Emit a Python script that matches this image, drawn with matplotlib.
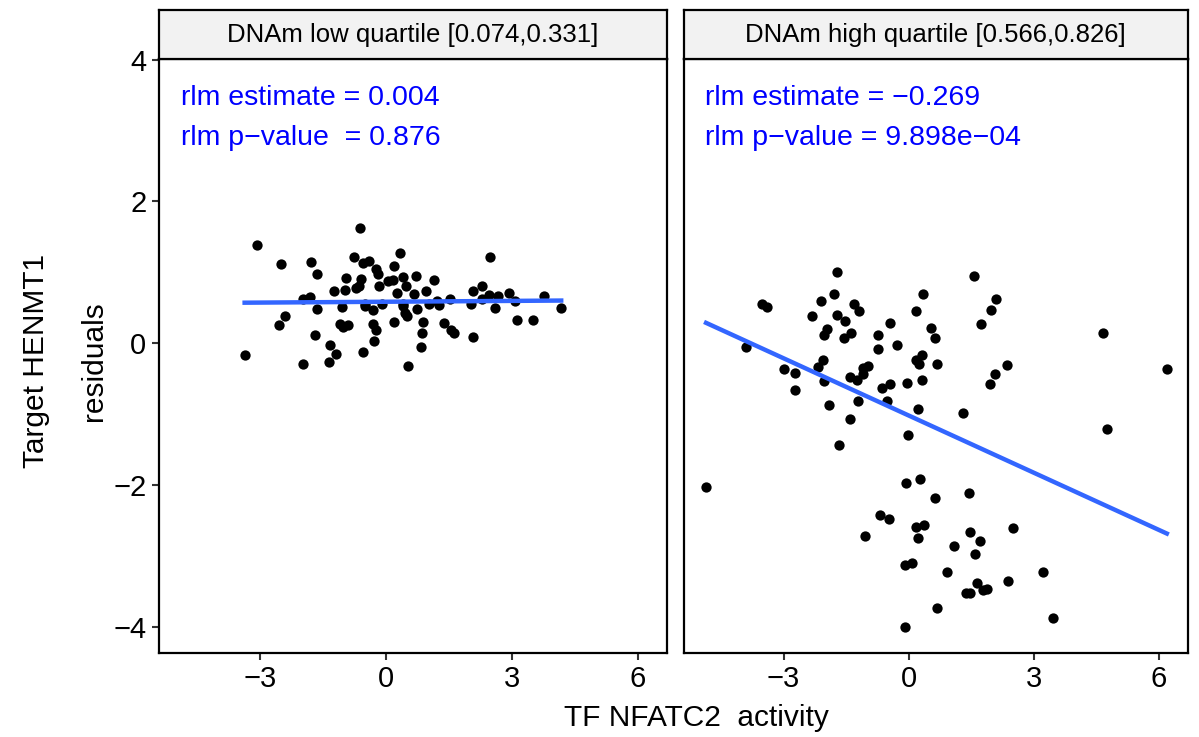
import matplotlib.pyplot as plt
import numpy as np

plt.rcParams['font.family'] = ['Liberation Sans', 'DejaVu Sans']

# facet labels and annotation text
strip_labels = ['DNAm low quartile [0.074,0.331]', 'DNAm high quartile [0.566,0.826]']
est_text = ['rlm estimate = 0.004', 'rlm estimate = \u22120.269']
pval_text = ['rlm p\u2212value  = 0.876', 'rlm p\u2212value = 9.898e\u221204']

# rlm fit (intercept, slope) per panel
fit_intercept = [0.585, -1.02]
fit_slope = [0.004, -0.269]

# low quartile panel
low_x = [-0.61, -3.07, -2.50, -1.79, -1.63, -0.75, -0.53, -0.40, 0.34, -0.24,
         -0.18, 0.19, -0.95, -0.58, -0.63, -0.70, -1.22, -0.96, -0.15, 0.06,
         0.17, 0.41, 0.49, 0.27, -1.98, -1.80, -1.63, -1.05, -0.49, -0.49,
         -0.31, -0.09, 0.42, 0.47, 0.51, -2.40, -2.53, -1.69, -1.09, -1.01,
         -0.89, -0.31, -0.24, -0.27, 0.20, -1.33, -1.18, -0.54, -3.36, -1.98,
         -1.35, 0.52, 0.73, 1.15, 0.67, 0.95, 0.41, 0.75, 1.02, 1.21,
         1.27, 1.52, 2.02, 2.08, 2.29, 2.30, 2.46, 2.49, 2.68, 2.61,
         2.94, 3.07, 3.12, 3.50, 3.77, 4.18, 0.90, 0.86, 0.85, 1.40,
         1.55, 1.63, 2.07]
low_y = [1.63, 1.38, 1.12, 1.14, 0.97, 1.21, 1.13, 1.16, 1.27, 1.05,
         0.98, 1.09, 0.92, 0.91, 0.81, 0.78, 0.74, 0.75, 0.81, 0.88,
         0.89, 0.93, 0.81, 0.71, 0.62, 0.65, 0.48, 0.51, 0.56, 0.53,
         0.47, 0.56, 0.56, 0.42, 0.38, 0.38, 0.26, 0.11, 0.27, 0.23,
         0.26, 0.27, 0.18, 0.03, 0.30, -0.03, -0.15, -0.12, -0.16, -0.29,
         -0.26, -0.32, 0.95, 0.89, 0.69, 0.74, 0.52, 0.48, 0.56, 0.59,
         0.54, 0.63, 0.56, 0.74, 0.81, 0.63, 0.68, 1.21, 0.67, 0.49,
         0.71, 0.59, 0.33, 0.33, 0.66, 0.49, 0.30, 0.14, -0.06, 0.29,
         0.18, 0.15, 0.09]

# high quartile panel
high_x = [-1.71, -1.80, -2.10, -1.32, -1.20, -3.52, -3.39, -1.72, -1.53, -2.31,
          -1.96, -2.02, -1.39, -1.56, -0.45, -0.74, -0.74, -0.28, 0.35, 0.18,
          0.53, 0.63, -3.90, -2.06, -2.18, -2.99, -2.73, -2.72, -2.02, -1.41,
          -1.25, -1.10, -0.97, -1.09, -0.63, -0.44, -0.05, 0.32, 0.17, 0.33,
          0.25, 0.68, -0.51, -1.21, -1.90, -1.41, 0.23, -0.02, -1.68, 1.57,
          2.10, 1.97, 1.73, 2.36, 2.08, 1.95, 4.66, 6.19, 4.76, 1.31,
          -4.86, -0.07, 0.27, 0.62, -0.68, -0.47, -1.05, 0.18, 0.37, 0.22,
          -0.08, 0.08, 0.67, -0.10, 1.44, 1.47, 1.70, 2.51, 1.09, 1.58,
          0.93, 1.64, 1.38, 1.48, 1.78, 1.87, 2.38, 3.23, 3.45]
high_y = [1.00, 0.70, 0.60, 0.56, 0.46, 0.55, 0.51, 0.40, 0.32, 0.38,
          0.20, 0.12, 0.15, 0.07, 0.29, 0.11, -0.08, -0.02, 0.70, 0.45,
          0.22, 0.07, -0.06, -0.24, -0.33, -0.36, -0.42, -0.66, -0.54, -0.48,
          -0.52, -0.43, -0.32, -0.35, -0.63, -0.58, -0.56, -0.52, -0.23, -0.17,
          -0.29, -0.29, -0.81, -0.81, -0.87, -1.07, -0.93, -1.29, -1.44, 0.95,
          0.63, 0.47, 0.27, -0.31, -0.44, -0.57, 0.15, -0.37, -1.21, -0.99,
          -2.03, -1.97, -1.92, -2.18, -2.43, -2.48, -2.72, -2.59, -2.56, -2.75,
          -3.13, -3.10, -3.73, -4.00, -2.11, -2.66, -2.79, -2.61, -2.86, -2.97,
          -3.23, -3.38, -3.52, -3.53, -3.48, -3.47, -3.35, -3.23, -3.88]

xs = [low_x, high_x]
ys = [low_y, high_y]

fig = plt.figure(figsize=(11.99, 7.37), dpi=100)
ax_l = fig.add_axes([0.1326, 0.1140, 0.4237, 0.806])
ax_r = fig.add_axes([0.5701, 0.1140, 0.4208, 0.806])
axes = [ax_l, ax_r]

for i, ax in enumerate(axes):
    x = np.array(xs[i])
    y = np.array(ys[i])
    ax.scatter(x, y, s=55, color='black', linewidths=0, zorder=2)
    xl = np.array([x.min(), x.max()])
    ax.plot(xl, fit_intercept[i] + fit_slope[i] * xl, color='#3366FF', lw=3.2, zorder=3)
    ax.set_xlim(-5.40, 6.70)
    ax.set_ylim(-4.37, 4.01)
    ax.set_xticks([-3, 0, 3, 6])
    ax.set_yticks([-4, -2, 0, 2, 4])
    ax.tick_params(axis='both', labelsize=21, length=5, width=1.5, color='#333333',
                   labelcolor='black', pad=4)
    for sp in ax.spines.values():
        sp.set_linewidth(1.6)
        sp.set_color('black')
    ax.text(0.043, 0.934, est_text[i], transform=ax.transAxes, color='#0000FF',
            fontsize=20.5, va='center', ha='left')
    ax.text(0.043, 0.867, pval_text[i], transform=ax.transAxes, color='#0000FF',
            fontsize=20.5, va='center', ha='left')
    # facet strip
    pos = ax.get_position()
    sax = fig.add_axes([pos.x0, 0.9199, pos.width, 0.0665])
    sax.set_facecolor('#F2F2F2')
    sax.set_xticks([])
    sax.set_yticks([])
    for sp in sax.spines.values():
        sp.set_linewidth(1.6)
    sax.text(0.5, 0.5, strip_labels[i], ha='center', va='center', fontsize=18.5)

ax_r.tick_params(axis='y', left=False, labelleft=False)

fig.text(0.581, 0.026, 'TF NFATC2  activity', ha='center', va='center', fontsize=21.5)
fig.text(0.030, 0.510, 'Target HENMT1', rotation=90, ha='center', va='center', fontsize=21.5)
fig.text(0.078, 0.510, 'residuals', rotation=90, ha='center', va='center', fontsize=21.5)

fig.savefig('out.png', dpi=100)
